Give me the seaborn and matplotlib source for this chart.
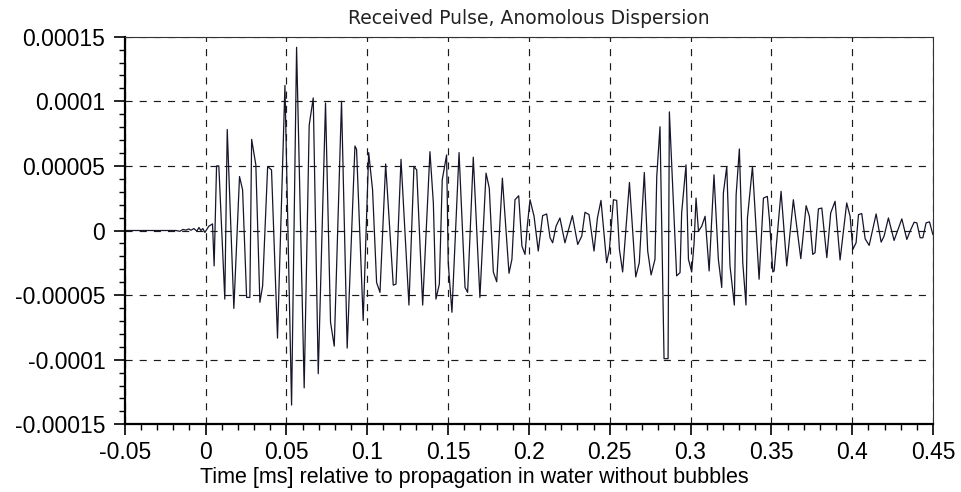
import numpy as np
import pandas as pd
import matplotlib
matplotlib.use("Agg")
import matplotlib.pyplot as plt
from matplotlib.ticker import MultipleLocator
import seaborn as sns

# time [ms] of each sample
time_ms = [
    -0.05, -0.0184, -0.0159, -0.0140, -0.0122, -0.0103, -0.0091, -0.0072, -0.0054,
    -0.0041, -0.0029, -0.0017, -0.0004, 0.0020, 0.0043, 0.0053, 0.0068, 0.0082,
    0.0119, 0.0134, 0.0175, 0.0210, 0.0229, 0.0254, 0.0274, 0.0285, 0.0311,
    0.0336, 0.0353, 0.0384, 0.0408, 0.0445, 0.0491, 0.0532, 0.0563,
    0.0610, 0.0641, 0.0666, 0.0697, 0.0742, 0.0773, 0.0796, 0.0841, 0.0876,
    0.0924, 0.0934, 0.0975, 0.1009, 0.1033, 0.1058, 0.1079, 0.1114, 0.1161,
    0.1178, 0.1209, 0.1258, 0.1289, 0.1306,
    0.1343, 0.1388, 0.1409, 0.1425, 0.1446, 0.1464, 0.1491, 0.1501, 0.1524,
    0.1568, 0.1605, 0.1621, 0.1656, 0.1697, 0.1735, 0.1755, 0.1780, 0.1801,
    0.1836, 0.1877, 0.1895, 0.1914, 0.1937, 0.1957, 0.1976, 0.1990, 0.2007,
    0.2032, 0.2058,
    0.2085, 0.2110, 0.2131, 0.2147, 0.2168, 0.2192, 0.2223, 0.2269, 0.2302,
    0.2327, 0.2347, 0.2372, 0.2403, 0.2424, 0.2446, 0.2481, 0.2498, 0.2523,
    0.2543, 0.2560, 0.2580, 0.2622, 0.2661, 0.2683, 0.2714, 0.2735, 0.2756,
    0.2780,
    0.2791, 0.2811, 0.2836, 0.2861, 0.2869, 0.2914, 0.2935, 0.2945, 0.2972,
    0.2987, 0.3007, 0.3022, 0.3034, 0.3049, 0.3069, 0.3090, 0.3115, 0.3145,
    0.3172, 0.3193, 0.3203, 0.3224, 0.3244, 0.3271, 0.3282, 0.3302, 0.3323,
    0.3343, 0.3352, 0.3383, 0.3424, 0.3451, 0.3475, 0.3488, 0.3509,
    0.3517, 0.3560, 0.3595, 0.3636, 0.3682, 0.3715, 0.3735, 0.3756, 0.3770,
    0.3791, 0.3812, 0.3843, 0.3867, 0.3894, 0.3925, 0.3966, 0.3987, 0.4004,
    0.4024, 0.4039, 0.4059, 0.4080, 0.4105, 0.4148, 0.4179, 0.4197, 0.4224,
    0.4259, 0.4307, 0.4338, 0.4358, 0.4383, 0.4400, 0.4420, 0.4437, 0.4457,
    0.4478, 0.4499,
]

# received pressure amplitude, in units of 1e-5
amp_e5 = [
    0.0, 0.0, -0.06, 0.08, 0.03, 0.12, 0.02, 0.15, -0.05,
    0.23, 0.0, 0.15, -0.15, 0.33, 0.51, -2.74, 5.0, 5.0,
    -5.31, 7.82, -6.03, 4.18, 3.15, -5.18, -5.18, 7.05, 5.08,
    -5.56, -4.28, 4.95, 4.69, -8.33, 11.23, -13.51, 14.18,
    -12.18, 8.15, 10.26, -11.08, 9.87, -7.10, -8.95, 10.0, -9.10,
    6.54, 6.28, -6.97, 6.03, 3.15, -4.03, -4.79, 5.15, -4.23,
    -4.15, 5.51, -5.77, 4.95, 4.69,
    -5.77, 6.10, 2.13, -5.31, -4.15, 3.92, 5.85, -2.49, -6.33,
    6.03, -4.41, -4.79, 5.67, -5.18, 4.44, 3.28, -3.21, -3.97,
    4.05, -3.31, -2.23, 2.38, 2.69, -1.21, -1.85, 0.33, 2.38,
    1.10, -1.59,
    1.15, 1.28, -0.56, -0.95, 0.33, 0.97, -0.95, 1.15, -1.08,
    -0.44, 1.41, 1.23, -1.59, 0.97, 2.33, -2.49, -1.46, 2.38,
    2.33, -1.46, -3.21, 3.72, -3.59, -2.49, 4.49, -1.59, -3.44,
    -2.23,
    4.18, 8.03, -9.92, -9.92, 9.18, -3.51, -3.26, 1.36, 5.08,
    -2.23, -3.21, -0.95, 2.51, -0.05, 0.33, 1.10, -3.13, 4.31,
    -2.23, -4.41, 2.90, 4.95, -2.74, -5.77, 2.77, 6.31, -2.49,
    -5.77, 0.97, 4.95, -3.77, 2.51, 2.64, 0.85, -3.21,
    -3.13, 3.03, -2.74, 2.38, -2.18, 1.92, 1.10, -1.85, -1.72,
    1.67, 1.74, -2.10, 1.36, 2.26, -2.28, 2.13, 1.10, -1.46,
    -0.95, 1.23, 1.31, -0.64, -1.15, 1.28, -0.90, -0.44, 0.97,
    -0.77, 0.90, -0.69, -0.05, 0.64, 0.59, -0.56, -0.56, 0.59,
    0.67, -0.31,
]

x_ticks = [-0.05, 0, 0.05, 0.1, 0.15, 0.2, 0.25, 0.3, 0.35, 0.4, 0.45]
x_labels = ["-0.05", "0", "0.05", "0.1", "0.15", "0.2", "0.25", "0.3", "0.35", "0.4", "0.45"]
y_ticks = [-0.00015, -0.0001, -0.00005, 0, 0.00005, 0.0001, 0.00015]
y_labels = ["-0.00015", "-0.0001", "-0.00005", "0", "0.00005", "0.0001", "0.00015"]

df = pd.DataFrame({"time": time_ms, "amp": np.array(amp_e5) * 1e-5})

sns.set_style("white")
plt.rcParams["font.family"] = ["Liberation Sans", "DejaVu Sans"]
plt.rcParams["text.color"] = "black"
plt.rcParams["axes.labelcolor"] = "black"

fig = plt.figure(figsize=(9.61, 4.92), dpi=100)
ax = fig.add_axes([0.1298, 0.1376, 0.8411, 0.7878])

sns.lineplot(data=df, x="time", y="amp", estimator=None, sort=False,
             color="#15152b", linewidth=0.9, ax=ax)

ax.set_xlim(-0.05, 0.45)
ax.set_ylim(-0.00015, 0.00015)
ax.set_xticks(x_ticks)
ax.set_xticklabels(x_labels)
ax.set_yticks(y_ticks)
ax.set_yticklabels(y_labels)
ax.xaxis.set_minor_locator(MultipleLocator(0.01))
ax.yaxis.set_minor_locator(MultipleLocator(0.00001))

ax.tick_params(axis="both", which="major", direction="out", length=8, width=1.2,
               labelsize=16.5, colors="black")
ax.tick_params(axis="y", which="major", pad=6)
ax.tick_params(axis="x", which="major", pad=4)
ax.tick_params(axis="both", which="minor", direction="out", length=4.5, width=1.0,
               colors="black")
ax.tick_params(axis="x", which="both", bottom=True)
ax.tick_params(axis="y", which="both", left=True)

ax.grid(True, which="major", color="#1a1a1a", linestyle=(0, (6, 6)), linewidth=0.85)

for side in ["left", "bottom"]:
    ax.spines[side].set_linewidth(1.6)
    ax.spines[side].set_color("black")
for side in ["top", "right"]:
    ax.spines[side].set_linewidth(0.8)
    ax.spines[side].set_color("#333333")

ax.set_xlabel("Time [ms] relative to propagation in water without bubbles",
              fontsize=15.5, color="black")
ax.xaxis.set_label_coords(0.433, -0.11)
ax.set_ylabel("")
ax.set_title("Received Pulse, Anomolous Dispersion", fontsize=13.5,
             family=["DejaVu Sans"], color="#222222", pad=9.5)

fig.savefig("out.png", dpi=100)
